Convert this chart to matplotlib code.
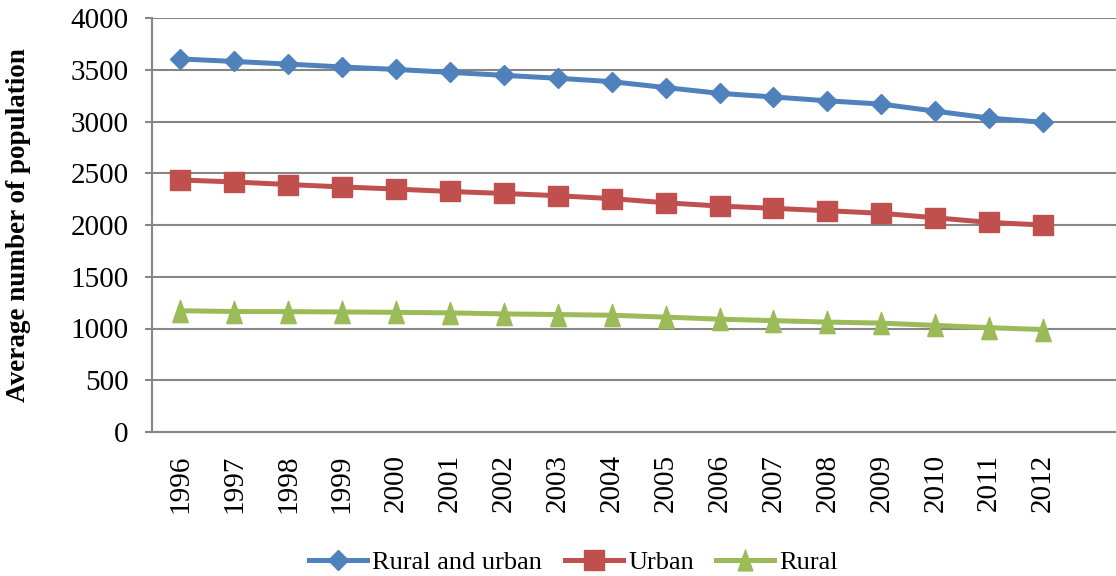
import matplotlib
matplotlib.use("Agg")
import matplotlib.pyplot as plt
from matplotlib.lines import Line2D

years = [str(y) for y in range(1996, 2013)]
rural_and_urban = [3605, 3580, 3555, 3527, 3503, 3475, 3446, 3418, 3385, 3328, 3272, 3237, 3200, 3168, 3100, 3033, 2992]
urban = [2435, 2416, 2391, 2368, 2347, 2324, 2305, 2283, 2255, 2215, 2183, 2161, 2138, 2113, 2070, 2025, 2000]
rural = [1172, 1164, 1163, 1160, 1156, 1151, 1141, 1135, 1128, 1110, 1090, 1076, 1062, 1052, 1030, 1008, 990]
yticks = [0, 500, 1000, 1500, 2000, 2500, 3000, 3500, 4000]

plt.rcParams['font.family'] = ['Liberation Serif', 'DejaVu Serif']

fig = plt.figure(figsize=(11.16, 5.76), dpi=100)
ax = fig.add_axes([152/1116, 1-432/576, 1-152/1116, (432-18)/576])

x = list(range(len(years)))
blue, red, green = '#4F81BD', '#C0504D', '#9BBB59'
tri = [(-0.7, -1), (0.7, -1), (0, 1), (-0.7, -1)]

ax.plot(x, rural_and_urban, color=blue, lw=3.6, marker='D', markersize=10.5, label='Rural and urban', zorder=3)
ax.plot(x, urban, color=red, lw=3.6, marker='s', markersize=14, label='Urban', zorder=3)
ax.plot(x, rural, color=green, lw=3.6, marker=tri, markersize=16, label='Rural', zorder=3)

ax.set_xlim(-0.52, 17.35)
ax.set_ylim(0, 4000)
ax.set_yticks(yticks)
ax.set_yticklabels([str(v) for v in yticks], fontsize=21)
ax.set_xticks(x)
ax.set_xticklabels(years, rotation=90, fontsize=21)
ax.tick_params(axis='x', length=0, pad=16)
ax.tick_params(axis='y', length=5, width=1.5, color='#868686', pad=12)

ax.grid(axis='y', color='#868686', lw=1.5)
ax.set_axisbelow(True)
for s in ['top', 'right']:
    ax.spines[s].set_visible(False)
ax.spines['left'].set_color('#868686')
ax.spines['left'].set_linewidth(1.5)
ax.spines['bottom'].set_color('#868686')
ax.spines['bottom'].set_linewidth(1.5)

ax.set_ylabel('Average number of population', fontsize=19.5, fontweight='bold')
ax.yaxis.set_label_coords(-0.1255, 0.5)

handles = [
    Line2D([], [], color=blue, lw=3.6, marker='D', markersize=10),
    Line2D([], [], color=red, lw=3.6, marker='s', markersize=14),
    Line2D([], [], color=green, lw=3.6, marker=tri, markersize=15),
]
fig.legend(handles, ['Rural and urban', 'Urban', 'Rural'], loc='center', bbox_to_anchor=(0.514, 1-562/576),
           ncol=3, frameon=False, fontsize=19, handlelength=2.2, handletextpad=0.2, columnspacing=0.85,
           borderpad=0, borderaxespad=0)

fig.savefig('out.png', dpi=100)
